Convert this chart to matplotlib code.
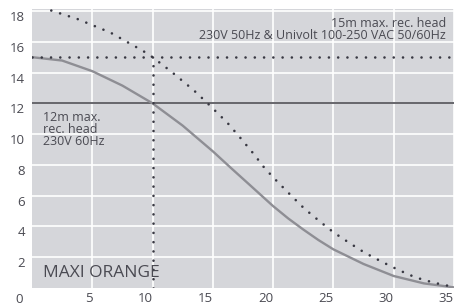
import matplotlib
matplotlib.use("Agg")
from matplotlib import pyplot as plt

plt.rcParams['font.family'] = ['Open Sans', 'DejaVu Sans']

# flow (x) vs head (y)
solid_x = [0, 2.5, 5, 7.5, 10, 12.5, 15, 16.5, 18, 20, 21.25, 22.5, 23.75, 25, 27.5, 30, 32.5, 35]
solid_y = [15.0, 14.78, 14.09, 13.15, 12.0, 10.55, 8.88, 7.8, 6.74, 5.32, 4.52, 3.8, 3.12, 2.51, 1.56, 0.78, 0.3, 0.04]

dotted_x = [1.6, 3.8, 6.5, 9.2, 10, 11.6, 13.4, 14.5, 16.2, 17.2, 18.4, 19.3, 20.4, 21.5, 22.6, 23.8,
            25, 26.3, 27.6, 29.0, 30.4, 31.8, 33.3, 35]
dotted_y = [18.03, 17.47, 16.6, 15.41, 15.0, 14.03, 12.86, 12.05, 10.74, 9.83, 8.7, 7.78, 6.87, 6.0, 5.15, 4.37,
            3.62, 2.94, 2.29, 1.71, 1.17, 0.69, 0.35, 0.06]

head_12 = 12
head_15 = 15
cross_x = 10

xticks = [5, 10, 15, 20, 25, 30, 35]
yticks = [2, 4, 6, 8, 10, 12, 14, 16, 18]

label_12 = '12m max.\nrec. head\n230V 60Hz'
label_15 = '15m max. rec. head\n230V 50Hz & Univolt 100-250 VAC 50/60Hz'

bg = '#d5d6da'
txt = '#4a4a52'
dots = '#383842'
dot_style = dict(color=dots, lw=1.9, linestyle=(0, (0.01, 3.5)), dash_capstyle='round')

fig = plt.figure(figsize=(4.54, 3.06), dpi=100)
ax = fig.add_axes([32 / 454, 18 / 306, 1 - 32 / 454, 279 / 306])
ax.set_facecolor(bg)
ax.set_xlim(0, 35)
ax.set_ylim(0, 18.13)
for s in ax.spines.values():
    s.set_visible(False)

ax.set_xticks(xticks)
ax.set_yticks(yticks)
ax.grid(color='white', lw=1.2)
ax.set_axisbelow(True)
ax.tick_params(length=0, labelsize=9.5, labelcolor=txt)
ax.tick_params(axis='x', pad=3)
ax.tick_params(axis='y', pad=5)
for lbl in ax.get_xticklabels():
    lbl.set_ha('right')
for lbl in ax.get_yticklabels():
    lbl.set_va('top')

ax.axhline(head_12, color='#5a5a60', lw=1.3)
ax.plot(solid_x, solid_y, color='#8e8e94', lw=1.7)
ax.plot([0, 35], [head_15, head_15], **dot_style)
ax.plot([cross_x, cross_x], [0, head_15], **dot_style)
ax.plot(dotted_x, dotted_y, **dot_style, clip_on=False)

ax.text(-0.75, -0.35, '0', ha='right', va='top', fontsize=9.5, color=txt)
ax.text(0.9, 11.53, label_12, ha='left', va='top', fontsize=9, color=txt, linespacing=0.9)
ax.text(34.33, 17.58, label_15, ha='right', va='top', multialignment='right',
        fontsize=9, color=txt, linespacing=0.9)
ax.text(0.9, 0.73, 'MAXI ORANGE', ha='left', va='baseline', fontsize=12.5, color=txt)

fig.savefig('out.png', dpi=100, facecolor='white')
